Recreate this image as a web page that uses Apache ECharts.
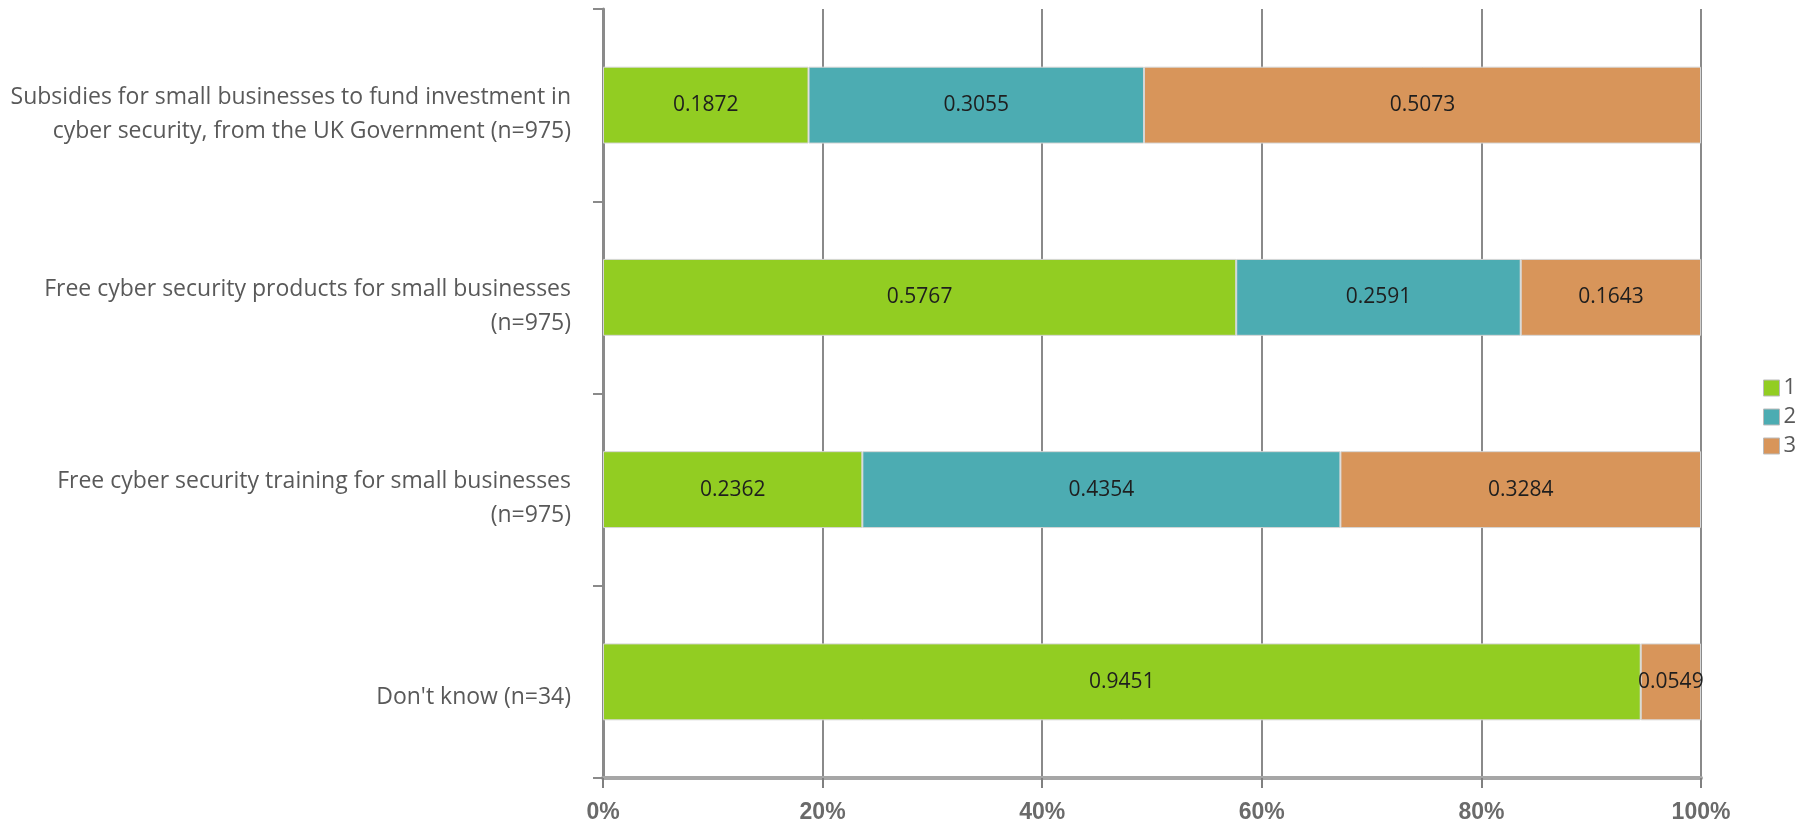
<!DOCTYPE html>
<html>
<head>
<meta charset="utf-8">
<script src="https://cdn.jsdelivr.net/npm/echarts@6/dist/echarts.min.js"></script>
<style>
html,body{margin:0;padding:0;background:#fff;}
#chart{width:1816px;height:825px;}
</style>
</head>
<body>
<div id="chart"></div>
<script>
const categories = [
  "Subsidies for small businesses to fund investment in\ncyber security, from the UK Government (n=975)",
  "Free cyber security products for small businesses\n(n=975)",
  "Free cyber security training for small businesses\n(n=975)",
  "Don't know (n=34)"
];
const seriesNames = ["1", "2", "3"];
const values1 = [0.1872, 0.5767, 0.2362, 0.9451];
const values2 = [0.3055, 0.2591, 0.4354, 0];
const values3 = [0.5073, 0.1643, 0.3284, 0.0549];
const xTicks = [0, 0.2, 0.4, 0.6, 0.8, 1.0];

const colors = ["#92cd22", "#4cacb2", "#d8955a"];
const allValues = [values1, values2, values3];

const chart = echarts.init(document.getElementById('chart'));
const series = seriesNames.map((name, i) => ({
  name: name,
  type: 'bar',
  stack: 'total',
  barWidth: '40%',
  data: allValues[i].map(v => v === 0 ? null : v),
  itemStyle: { color: colors[i], borderColor: '#d6d6d6', borderWidth: 1 },
  label: {
    show: true,
    position: 'inside',
    color: '#1e1e1e',
    fontFamily: 'Open Sans, sans-serif',
    fontSize: 21,
    formatter: p => String(p.value)
  }
}));

chart.setOption({
  animation: false,
  backgroundColor: '#ffffff',
  grid: { left: 603, right: 115, top: 9, bottom: 47, containLabel: false },
  legend: {
    orient: 'vertical',
    left: 1758,
    top: 372,
    itemWidth: 16,
    itemHeight: 16,
    itemGap: 7,
    icon: 'rect',
    data: seriesNames,
    textStyle: { color: '#595959', fontSize: 22, fontFamily: 'Open Sans, sans-serif', padding: [0,0,0,-1] },
    itemStyle: { borderColor: '#bbbbbb', borderWidth: 1 }
  },
  xAxis: {
    type: 'value',
    min: 0,
    max: 1,
    interval: 0.2,
    axisLine: { show: true, lineStyle: { color: '#a6a6a6', width: 4 } },
    axisTick: { show: true, length: 10, lineStyle: { color: '#808080', width: 2 } },
    splitLine: { show: true, lineStyle: { color: '#8a8a8a', width: 2 } },
    axisLabel: {
      margin: 23,
      color: '#6a6a6a',
      fontWeight: 'bold',
      fontSize: 23,
      fontFamily: 'Liberation Sans Narrow, Arial Narrow, sans-serif',
      formatter: v => Math.round(v * 100) + '%'
    }
  },
  yAxis: {
    type: 'category',
    inverse: true,
    data: categories,
    axisLine: { show: true, onZero: false, lineStyle: { color: '#8a8a8a', width: 3 } },
    axisTick: { show: true, length: 10, lineStyle: { color: '#8a8a8a', width: 2 } },
    axisLabel: {
      margin: 32,
      align: 'right',
      formatter: v => {
        const lines = v.split('\n');
        const pad = lines.length > 1 ? '{pad|}' : '{padL|}';
        return pad + '\n' + lines.map(s => '{a|' + s + '}').join('\n');
      },
      rich: {
        pad: { height: 18, lineHeight: 18, fontSize: 1 },
        padL: { height: 32, lineHeight: 32, fontSize: 1 },
        a: {
          color: '#595959',
          fontSize: 23,
          lineHeight: 34,
          align: 'right',
          fontFamily: 'Open Sans, sans-serif'
        }
      }
    }
  },
  series: series
});
</script>
</body>
</html>
